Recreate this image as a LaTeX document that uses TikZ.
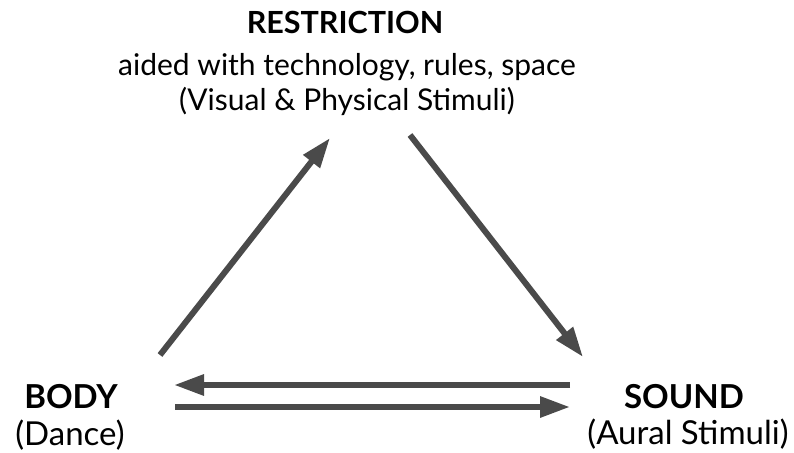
\documentclass[tikz,border=0pt]{standalone}
\usepackage{fontspec}
\setmainfont{Lato}
\usetikzlibrary{arrows.meta}
\definecolor{arrowgray}{HTML}{4A4A4A}
\tikzset{
  toptitle/.style={font=\bfseries\fontsize{30.5}{32}\selectfont, anchor=base, inner sep=0pt},
  topsub/.style={font=\fontsize{30}{32}\selectfont, anchor=base, inner sep=0pt},
  cornertitle/.style={font=\bfseries\fontsize{33}{35}\selectfont, anchor=base, inner sep=0pt},
  cornersub/.style={font=\fontsize{33}{35}\selectfont, anchor=base, inner sep=0pt},
  flow/.style={draw=arrowgray, line width=6pt,
    -{Triangle[length=30pt,width=20pt]}}
}
\begin{document}
\begin{tikzpicture}[x=1pt,y=-1pt]
  \useasboundingbox (0,0) rectangle (794,452);
  % top vertex
  \node[toptitle] (restr) at (345,34) {RESTRICTION};
  \node[topsub] (restrA) at (347,75) {aided with technology, rules, space};
  \node[topsub] (restrB) at (347,110) {(Visual \& Physical Stimuli)};
  % bottom-left vertex
  \node[cornertitle] (body) at (71,408) {BODY};
  \node[cornersub] (bodyA) at (70,445) {(Dance)};
  % bottom-right vertex
  \node[cornertitle] (sound) at (684,408) {SOUND};
  \node[cornersub] (soundA) at (688,444) {(Aural Stimuli)};
  % arrow end points
  \coordinate (bUp) at (160,355);
  \coordinate (rL) at (330,138);
  \coordinate (rR) at (410,135);
  \coordinate (sUp) at (583,357);
  \coordinate (sTop) at (570,385);
  \coordinate (bTop) at (174,385);
  \coordinate (bBot) at (175,407);
  \coordinate (sBot) at (570,407);
  % connectors
  \draw[flow] (bUp) -- (rL);
  \draw[flow] (rR) -- (sUp);
  \draw[flow] (sTop) -- (bTop);
  \draw[flow] (bBot) -- (sBot);
\end{tikzpicture}
\end{document}
